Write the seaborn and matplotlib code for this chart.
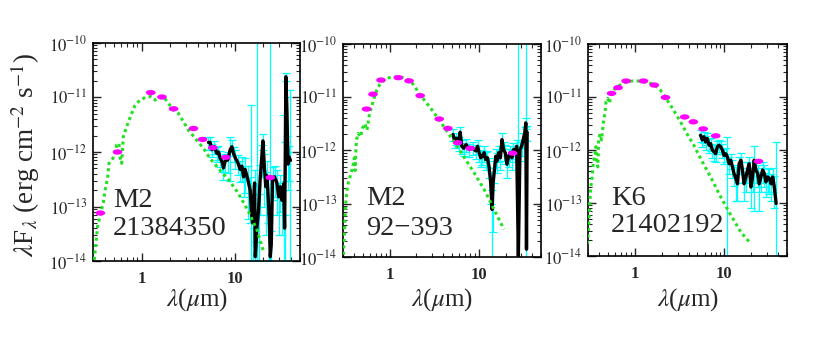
import numpy as np
import matplotlib
matplotlib.use('Agg')
import matplotlib.pyplot as plt
import seaborn as sns
from matplotlib.path import Path
from matplotlib.transforms import Affine2D
from matplotlib.ticker import LogLocator, FixedLocator, FuncFormatter, NullFormatter

# -------------------------------
# Panel 1: M2, 21384350
# -------------------------------
p1_label = ['M2', '21384350']
p1_model_lam = [0.31, 0.323, 0.336, 0.356, 0.371, 0.387, 0.41, 0.431, 0.446, 0.476, 0.517, 0.538,
                0.57, 0.585, 0.61, 0.635, 0.69, 0.78, 0.85, 0.96, 1.09, 1.25, 1.39, 1.51, 1.71,
                1.94, 2.19, 2.48, 2.81, 3.18, 3.6, 4.07, 4.6, 5.43, 6.67, 8.55, 10.9, 14.0, 17.3, 20.3]
p1_model_flux = [1.05e-14, 2.1e-14, 4.3e-14, 6.5e-14, 8.7e-14, 1.15e-13, 2.3e-13, 3.3e-13, 6.2e-13,
                 7.1e-13, 8.7e-13, 1.35e-12, 1.45e-12, 8.1e-13, 6.2e-13, 1.9e-12, 2.9e-12, 5.1e-12,
                 7.2e-12, 9.0e-12, 1.0e-11, 1.04e-11, 9.0e-12, 9.6e-12, 1.04e-11, 7.8e-12, 5.9e-12,
                 5.1e-12, 3.6e-12, 2.5e-12, 1.95e-12, 1.5e-12, 1.17e-12, 7.6e-13, 5.0e-13, 3.1e-13,
                 1.75e-13, 8.1e-14, 3.7e-14, 1.5e-14]
p1_phot_lam = [0.36, 0.55, 1.25, 1.65, 2.2, 3.6, 4.5, 5.8, 8.0, 24.0]
p1_phot_flux = [7.6e-14, 1.0e-12, 1.23e-11, 1.02e-11, 6.2e-12, 2.7e-12, 1.7e-12, 1.2e-12, 8.0e-13, 3.4e-13]
p1_spec_lam = [5.21, 5.43, 5.66, 6.04, 6.40, 6.67, 6.95, 7.36, 7.55, 7.87, 8.41, 8.91, 9.29, 9.68,
               10.1, 10.8, 11.4, 11.9, 12.4, 12.9, 13.8, 14.6, 15.0, 15.5, 15.9, 16.3, 16.6, 17.2,
               18.0, 18.7, 19.5, 20.0, 20.8, 21.5, 22.1, 22.6, 23.4, 24.0, 24.6, 25.4, 26.7, 28.3,
               29.5, 30.7, 32.0, 33.4, 34.2, 34.8, 35.3, 36.2, 37.2, 38.4, 39.5]
p1_spec_flux = [1.5e-12, 1.5e-12, 1.1e-12, 1.25e-12, 9.5e-13, 1.0e-12, 7.8e-13, 6.3e-13, 5.1e-13,
                6.8e-13, 7.2e-13, 1.1e-12, 1.25e-12, 9.5e-13, 7.8e-13, 6.3e-13, 4.8e-13, 5.5e-13,
                3.5e-13, 4.8e-13, 3.1e-13, 2.0e-13, 8.7e-14, 5.0e-14, 1.4e-13, 2.7e-13, 1.2e-14,
                3.7e-14, 9.0e-14, 3.2e-13, 8.5e-13, 1.6e-12, 5.0e-13, 2.3e-13, 3.7e-13, 2.0e-13,
                6.0e-14, 1.2e-14, 2.0e-14, 3.3e-13, 3.5e-13, 2.7e-13, 1.5e-13, 2.3e-13, 1.3e-13,
                2.6e-13, 4.0e-14, 9.0e-13, 2.4e-11, 6.0e-12, 6.0e-13, 8.0e-13, 7.0e-13]
p1_spec_err = [4e-13, 4e-13, 3e-13, 3.5e-13, 3e-13, 3e-13, 2.5e-13, 2e-13, 2e-13, 2.5e-13, 3e-13,
               8e-13, 4e-13, 3e-13, 3e-13, 2.5e-13, 2e-13, 2.5e-13, 2e-13, 3e-13, 2.5e-13, 1.5e-13,
               7.3e-12, 4e-14, 1e-13, 2e-13, 1e-14, 2e-10, 8e-14, 2.5e-13, 5e-13, 5e-13, 4e-13,
               2e-13, 3e-13, 1.5e-13, 5e-14, 2e-10, 1.5e-14, 2e-13, 2e-13, 2e-13, 1.2e-13, 1.5e-13,
               1e-13, 4.6e-12, 3e-14, 6e-13, 4e-12, 4e-12, 4e-13, 5e-13, 1.3e-11]

# -------------------------------
# Panel 2: M2, 92-393
# -------------------------------
p2_label = ['M2', '92\u2212393']
p2_model_lam = [0.303, 0.311, 0.321, 0.336, 0.359, 0.384, 0.401, 0.41, 0.418, 0.425, 0.444, 0.471,
                0.495, 0.526, 0.557, 0.586, 0.612, 0.638, 0.677, 0.719, 0.769, 0.873, 0.99, 1.17,
                1.39, 1.65, 1.87, 2.12, 2.52, 2.98, 3.53, 4.18, 5.39, 6.95, 8.96, 11.6, 14.9, 19.2]
p2_model_flux = [1.1e-14, 2.8e-14, 1.0e-13, 2.1e-13, 3.2e-13, 4.7e-13, 7.2e-13, 4.2e-13, 1.03e-12,
                 1.6e-12, 2.1e-12, 1.8e-12, 2.6e-12, 3.2e-12, 2.4e-12, 4.3e-12, 5.8e-12, 7.2e-12,
                 1.03e-11, 1.37e-11, 1.7e-11, 2.1e-11, 2.33e-11, 2.4e-11, 2.35e-11, 2.1e-11, 1.7e-11,
                 1.2e-11, 8.3e-12, 5.8e-12, 3.9e-12, 2.6e-12, 1.38e-12, 7.2e-13, 3.7e-13, 1.8e-13,
                 7.7e-14, 3.3e-14]
p2_phot_lam = [0.55, 0.65, 0.8, 1.25, 1.65, 2.2, 3.6, 4.5, 5.8, 8.0, 24.0]
p2_phot_flux = [6.0e-12, 1.14e-11, 2.1e-11, 2.33e-11, 2.03e-11, 1.07e-11, 3.9e-12, 2.6e-12, 1.4e-12,
                1.1e-12, 8.9e-13]
p2_spec_lam = [5.14, 5.36, 5.59, 5.93, 6.18, 6.45, 6.79, 7.20, 7.84, 8.53, 9.28, 9.68, 10.1, 10.5,
               11.0, 11.5, 11.9, 12.5, 13.0, 13.6, 14.1, 14.5, 15.0, 15.5, 16.0, 16.7, 17.5, 18.2,
               19.0, 19.8, 20.7, 21.6, 22.5, 23.5, 24.5, 25.5, 26.6, 27.8, 29.0, 30.2, 31.5, 32.9,
               33.7, 34.3, 34.9]
p2_spec_flux = [2.0e-12, 1.5e-12, 1.7e-12, 1.38e-12, 2.2e-12, 1.2e-12, 1.1e-12, 1.29e-12, 1.04e-12,
                1.12e-12, 9.8e-13, 1.2e-12, 9.1e-13, 7.3e-13, 7.8e-13, 9.1e-13, 6.8e-13, 7.3e-13,
                5.1e-13, 2.5e-13, 7.8e-14, 2.5e-13, 4.4e-13, 7.8e-13, 6.3e-13, 9.1e-13, 7.3e-13,
                1.6e-12, 1.04e-12, 9.1e-13, 5.5e-13, 7.8e-13, 9.1e-13, 7.3e-13, 1.04e-12, 9.1e-13,
                1.2e-12, 1.05e-14, 1.04e-12, 1.2e-12, 1.6e-12, 2.2e-12, 3.3e-12, 1.4e-14, 2.2e-12]
p2_spec_err = [5e-13, 4e-13, 4.5e-13, 4e-13, 6e-13, 3.5e-13, 3e-13, 3.5e-13, 3e-13, 3e-13, 3e-13,
               3.5e-13, 3e-13, 2.5e-13, 2.5e-13, 3e-13, 2.5e-13, 2.5e-13, 2e-13, 1.5e-13, 1e-13,
               2.2e-13, 2e-13, 3e-13, 2.5e-13, 3e-13, 3e-13, 5e-13, 4e-13, 3.5e-13, 2.5e-13, 3e-13,
               3e-13, 3e-13, 3.5e-13, 3e-13, 4e-13, 2e-10, 4e-13, 4e-13, 5e-13, 6e-13, 8e-13, 2e-10,
               7e-13]

# -------------------------------
# Panel 3: K6, 21402192
# -------------------------------
p3_label = ['K6', '21402192']
p3_model_lam = [0.297, 0.307, 0.315, 0.323, 0.334, 0.343, 0.355, 0.368, 0.374, 0.387, 0.394, 0.408,
                0.425, 0.445, 0.464, 0.477, 0.498, 0.519, 0.552, 0.601, 0.684, 0.813, 1.01, 1.25,
                1.62, 1.93, 2.29, 2.72, 3.23, 3.84, 4.56, 5.42, 7.02, 9.1, 11.8, 15.3, 19.8]
p3_model_flux = [1.7e-14, 4.7e-14, 1.1e-13, 2.0e-13, 3.1e-13, 5.5e-13, 7.4e-13, 1.15e-12, 6.0e-13,
                 4.8e-13, 1.55e-12, 2.0e-12, 1.55e-12, 3.2e-12, 4.9e-12, 8.1e-12, 9.4e-12, 7.6e-12,
                 1.17e-11, 1.45e-11, 1.68e-11, 1.95e-11, 2.03e-11, 1.95e-11, 1.74e-11, 1.35e-11,
                 8.8e-12, 5.6e-12, 3.4e-12, 2.0e-12, 1.23e-12, 6.9e-13, 3.1e-13, 1.3e-13, 5.9e-14,
                 2.8e-14, 1.7e-14]
p3_phot_lam = [0.55, 0.65, 0.8, 1.25, 1.65, 2.2, 3.6, 4.5, 5.8, 8.0, 24.0]
p3_phot_flux = [1.17e-11, 1.5e-11, 2.0e-11, 2.0e-11, 1.68e-11, 9.8e-12, 4.2e-12, 3.4e-12, 2.5e-12,
                1.85e-12, 6.1e-13]
p3_spec_lam = [5.42, 5.66, 5.91, 6.17, 6.44, 6.73, 7.02, 7.33, 7.65, 7.99, 8.34, 8.71, 9.09, 9.50,
               9.91, 10.35, 10.8, 11.3, 11.8, 12.3, 12.8, 13.4, 14.0, 14.6, 15.3, 15.9, 16.6, 17.4,
               18.1, 18.9, 19.8, 20.6, 21.5, 22.5, 23.5, 24.5, 25.6, 26.7, 27.9, 29.1, 30.4, 31.8,
               33.2, 34.6, 36.1, 37.8]
p3_spec_flux = [1.9e-12, 1.55e-12, 1.78e-12, 1.42e-12, 1.65e-12, 1.23e-12, 1.32e-12, 1.0e-12, 9.3e-13,
                8.5e-13, 1.15e-12, 1.23e-12, 1.15e-12, 1.0e-12, 7.9e-13, 8.5e-13, 7.4e-13, 5.5e-13,
                6.4e-13, 4.8e-13, 3.6e-13, 2.9e-13, 2.3e-13, 5.5e-13, 6.4e-13, 4.2e-13, 2.3e-13,
                3.1e-13, 4.2e-13, 5.5e-13, 2.0e-13, 3.1e-13, 6.4e-13, 4.2e-13, 3.6e-13, 2.3e-13,
                3.1e-13, 4.2e-13, 3.6e-13, 2.5e-13, 3.1e-13, 2.9e-13, 2.3e-13, 3.1e-13, 2.0e-13, 9.8e-14]
p3_spec_err = [5e-13, 4e-13, 4.5e-13, 4e-13, 4e-13, 3.5e-13, 3.5e-13, 3e-13, 3e-13, 2.5e-13, 3e-13,
               3e-13, 3e-13, 3e-13, 2.5e-13, 2.5e-13, 1e-12, 2e-13, 2e-13, 1.8e-13, 1.5e-13, 1.8e-13,
               1.2e-13, 2e-13, 2.5e-13, 1.8e-13, 1.2e-13, 1.5e-13, 1.8e-13, 2e-13, 1.2e-13, 1.5e-13,
               5.7e-13, 1.8e-13, 1.6e-13, 1.6e-13, 1.5e-13, 1.8e-13, 1.6e-13, 1.2e-13, 1.5e-13,
               1.4e-13, 1.2e-13, 1.5e-13, 1.2e-13, 1.3e-12]

# axis ticks shared by all panels
x_major_ticks = [1, 10]
y_major_ticks = [1e-14, 1e-13, 1e-12, 1e-11, 1e-10]

# -------------------------------
# Style
# -------------------------------
sns.set_style('ticks')
plt.rcParams['font.family'] = ['Liberation Serif', 'DejaVu Serif']
plt.rcParams['mathtext.fontset'] = 'stix'

phot_marker = Path.unit_circle().transformed(Affine2D().scale(1.8, 1.0))

fig = plt.figure(figsize=(8.3, 3.53), dpi=100)

panels = [
    (p1_spec_lam, p1_spec_flux, p1_spec_err, p1_model_lam, p1_model_flux, p1_phot_lam, p1_phot_flux, p1_label),
    (p2_spec_lam, p2_spec_flux, p2_spec_err, p2_model_lam, p2_model_flux, p2_phot_lam, p2_phot_flux, p2_label),
    (p3_spec_lam, p3_spec_flux, p3_spec_err, p3_model_lam, p3_model_flux, p3_phot_lam, p3_phot_flux, p3_label),
]
positions = [[0.1120, 0.2606, 0.2494, 0.6176],
             [0.4133, 0.2720, 0.2386, 0.6034],
             [0.7084, 0.2748, 0.2398, 0.6006]]
text_pos = [(0.097, 0.248, 0.119), (0.116, 0.244, 0.103), (0.116, 0.241, 0.113)]

for (s_lam, s_flux, s_err, m_lam, m_flux, ph_lam, ph_flux, label), pos, tp in zip(panels, positions, text_pos):
    ax = fig.add_axes(pos)
    ax.set_xscale('log')
    ax.set_yscale('log')

    # IRS spectrum with error bars
    ax.errorbar(s_lam, s_flux, yerr=s_err, fmt='none', ecolor='#00ffff',
                elinewidth=0.9, capsize=2.8, capthick=0.9, zorder=1)
    sns.lineplot(x=s_lam, y=s_flux, ax=ax, color='black', linewidth=2.4,
                 sort=False, estimator=None, zorder=2)
    # photosphere model
    sns.lineplot(x=m_lam, y=m_flux, ax=ax, color='#22e022', linewidth=2.2,
                 linestyle=(0, (1, 1.1)), sort=False, estimator=None, zorder=3)
    # photometry
    sns.scatterplot(x=ph_lam, y=ph_flux, ax=ax, marker=phot_marker, s=48,
                    color='#ff00ff', edgecolor='none', zorder=4)

    ax.set_xlim(0.3, 50)
    ax.set_ylim(1e-14, 1e-10)

    ax.xaxis.set_major_locator(FixedLocator(x_major_ticks))
    ax.xaxis.set_minor_locator(LogLocator(base=10, subs=np.arange(2, 10), numticks=10))
    ax.yaxis.set_major_locator(FixedLocator(y_major_ticks))
    ax.yaxis.set_minor_locator(LogLocator(base=10, subs=np.arange(2, 10), numticks=10))
    ax.xaxis.set_major_formatter(FuncFormatter(lambda v, p: f'{v:g}'))
    ax.xaxis.set_minor_formatter(NullFormatter())
    ax.yaxis.set_major_formatter(FuncFormatter(lambda v, p: rf'$10^{{{int(round(np.log10(v)))}}}$'))
    ax.yaxis.set_minor_formatter(NullFormatter())

    ax.tick_params(which='both', direction='in', top=True, right=True)
    ax.tick_params(which='major', length=6, width=1)
    ax.tick_params(which='minor', length=3, width=0.8)
    ax.tick_params(axis='y', which='major', labelsize=12, pad=4)
    ax.tick_params(axis='x', which='major', labelsize=12, pad=7)
    for lab in ax.get_xticklabels():
        lab.set_fontweight('bold')
    for sp in ax.spines.values():
        sp.set_linewidth(1.2)
        sp.set_color('black')

    ax.set_xlabel('')
    ax.set_ylabel('')
    ax.text(tp[0], tp[1], label[0], transform=ax.transAxes, fontsize=20.5, va='baseline', ha='left')
    ax.text(tp[0], tp[2], label[1], transform=ax.transAxes, fontsize=20.5, va='baseline', ha='left')

    cx = pos[0] + pos[2] / 2
    fig.text(cx, 0.150, r'$\lambda$($\mu$m)', ha='center', va='center', fontsize=18)

fig.text(0.030, 0.561, r'$\lambda$F$_\lambda$ (erg cm$^{-2}$ s$^{-1}$)',
         rotation=90, ha='center', va='center', fontsize=19.5)

plt.savefig('out.png', dpi=100)
